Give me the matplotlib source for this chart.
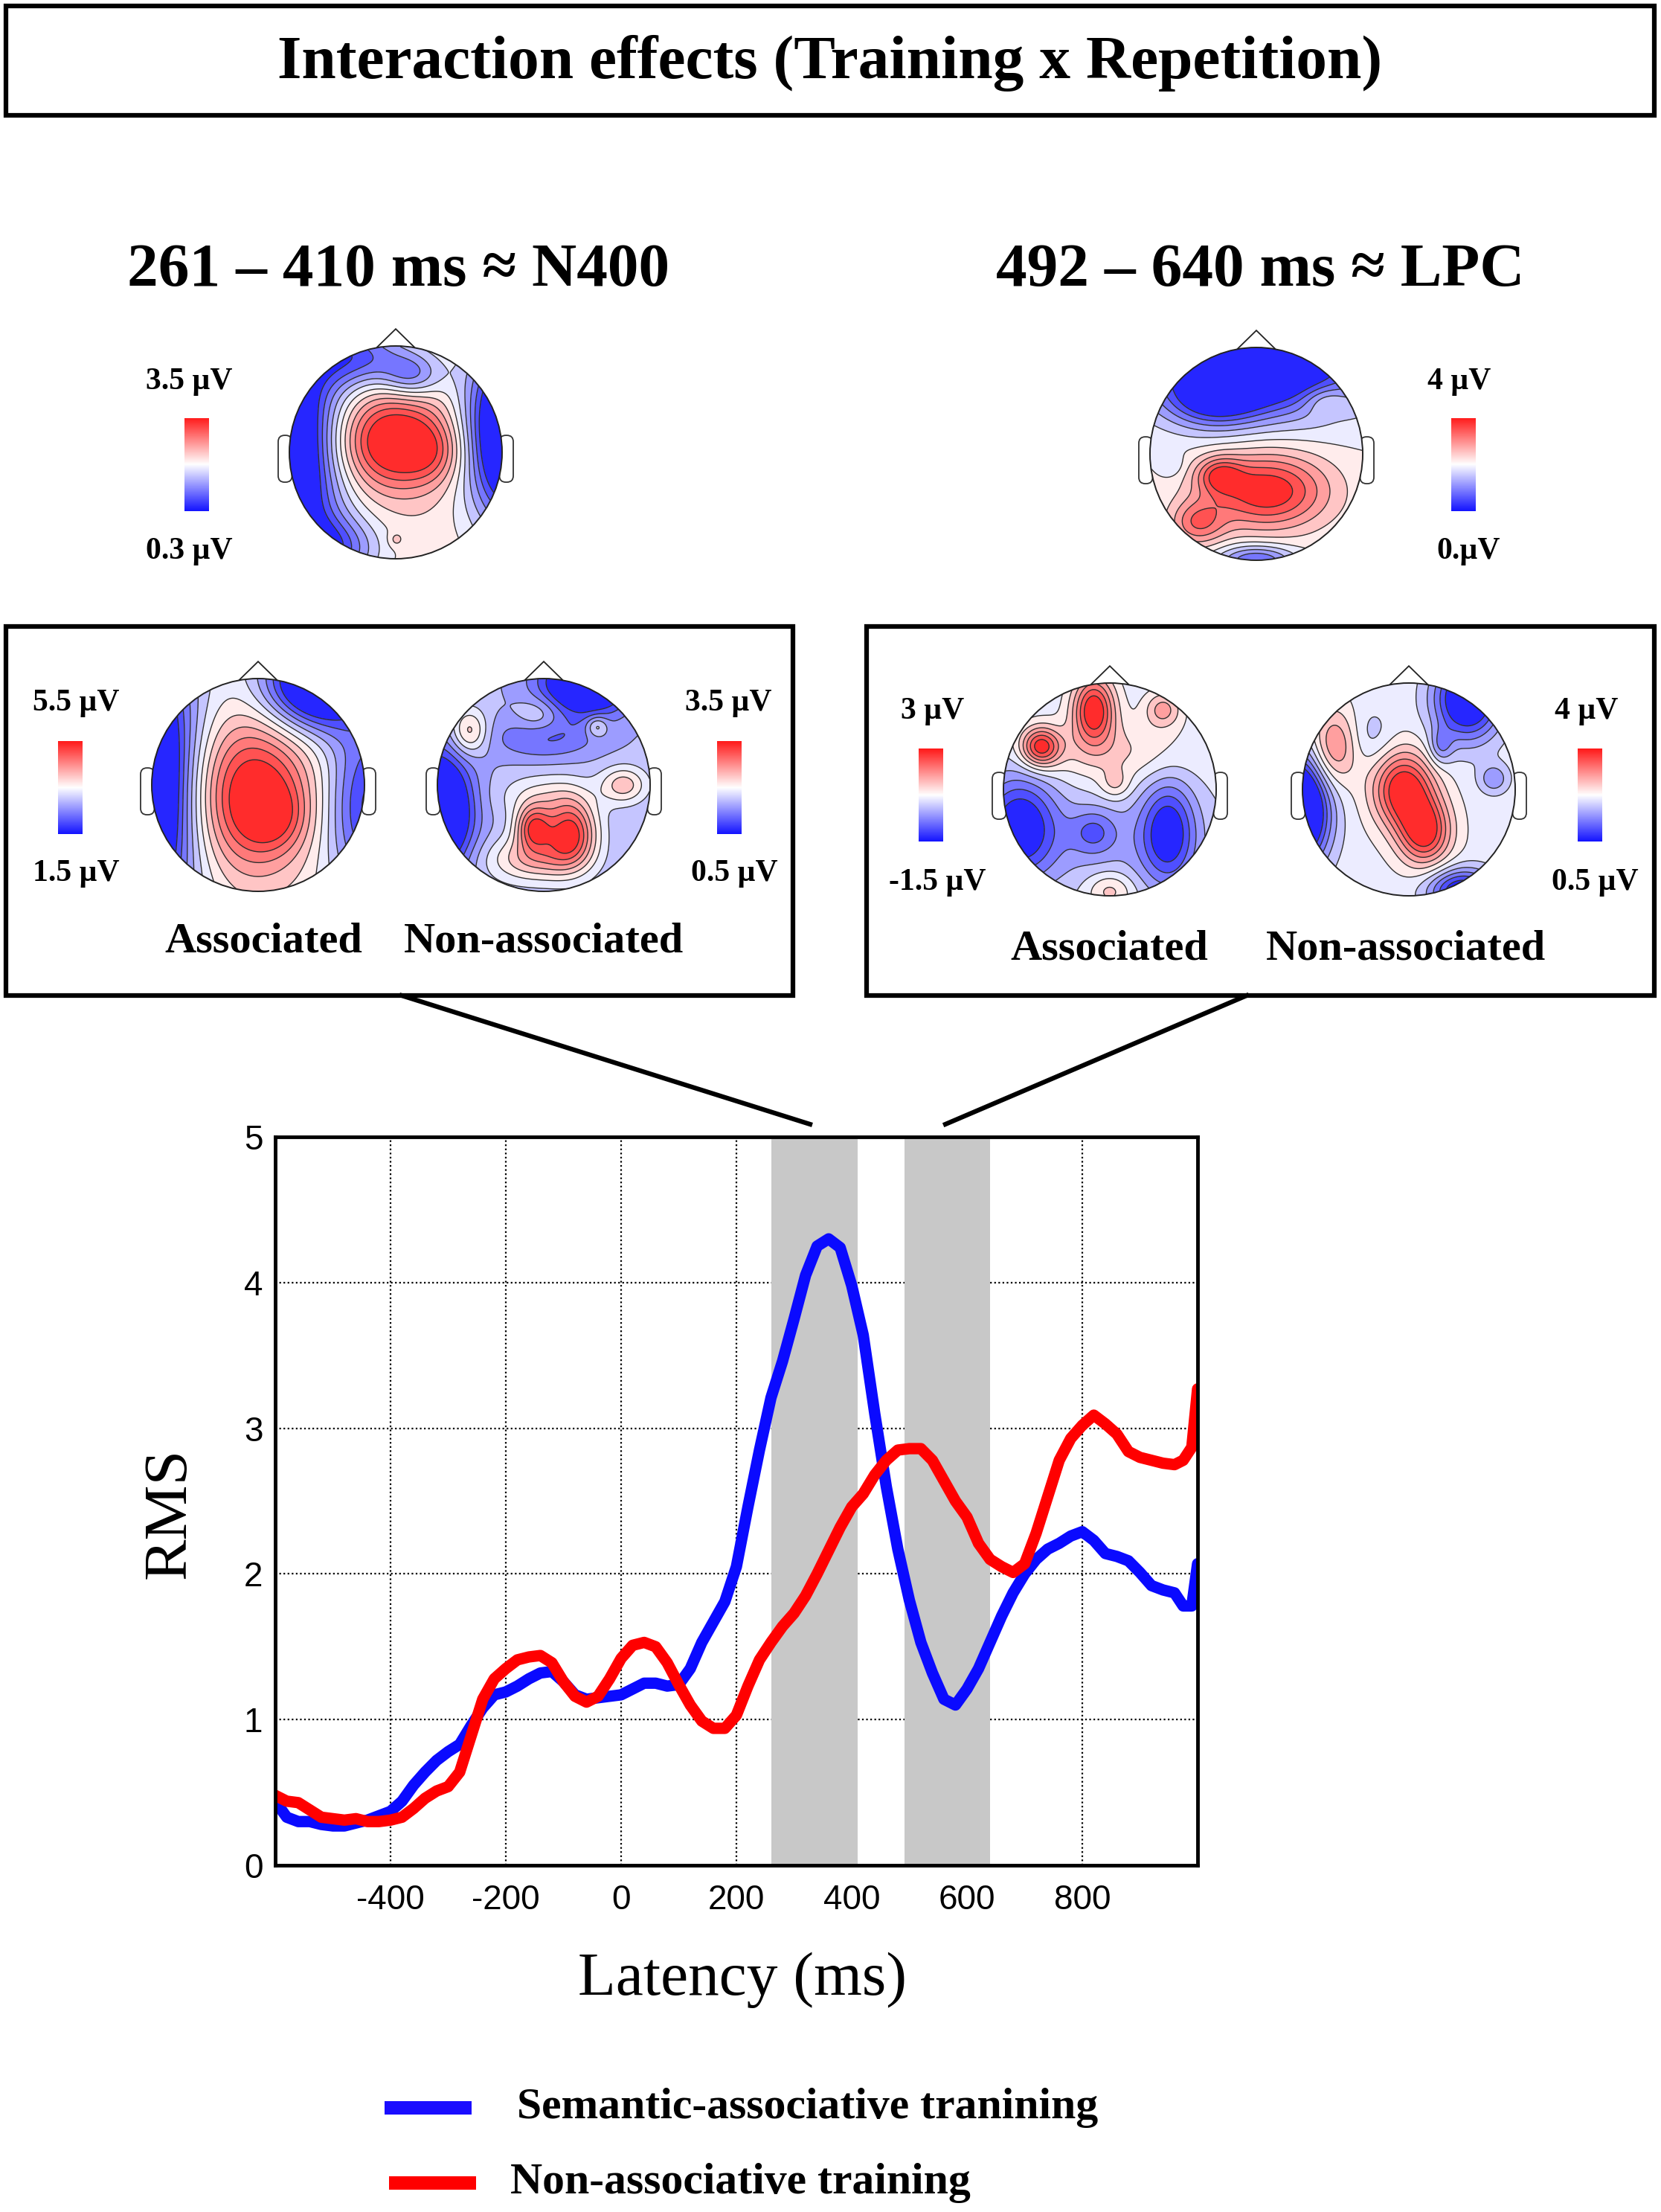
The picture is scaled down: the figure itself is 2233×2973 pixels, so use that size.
import numpy as np
import matplotlib.pyplot as plt
from matplotlib.patches import Rectangle, Polygon, Circle, FancyBboxPatch
from matplotlib.lines import Line2D
from matplotlib.colors import LinearSegmentedColormap

# RMS time courses (ms, µV)
latency = [-600, -580, -560, -540, -520, -500, -480, -460, -440, -420,
           -400, -380, -360, -340, -320, -300, -280, -260, -240, -220,
           -200, -180, -160, -140, -120, -100, -80, -60, -40, -20,
           0, 20, 40, 60, 80, 100, 120, 140, 160, 180,
           200, 220, 240, 260, 280, 300, 320, 340, 360, 380,
           400, 420, 440, 460, 480, 500, 520, 540, 560, 580,
           600, 620, 640, 660, 680, 700, 720, 740, 760, 780,
           800, 820, 840, 860, 880, 900, 920, 940, 960, 975, 990, 1000]
rms_semantic = [0.44, 0.33, 0.30, 0.30, 0.28, 0.27, 0.27, 0.29, 0.31, 0.34,
                0.37, 0.44, 0.55, 0.64, 0.72, 0.78, 0.83, 0.96, 1.08, 1.17,
                1.19, 1.23, 1.28, 1.32, 1.33, 1.26, 1.17, 1.14, 1.15, 1.16,
                1.17, 1.21, 1.25, 1.25, 1.23, 1.24, 1.35, 1.53, 1.67, 1.81,
                2.05, 2.46, 2.85, 3.21, 3.46, 3.75, 4.05, 4.25, 4.30, 4.24,
                3.98, 3.64, 3.10, 2.60, 2.17, 1.82, 1.53, 1.32, 1.14, 1.10,
                1.21, 1.35, 1.53, 1.71, 1.87, 2.00, 2.10, 2.17, 2.21, 2.26,
                2.29, 2.23, 2.14, 2.12, 2.09, 2.01, 1.92, 1.89, 1.87, 1.78, 1.78, 2.07]
rms_nonassoc = [0.48, 0.44, 0.43, 0.38, 0.33, 0.32, 0.31, 0.32, 0.30, 0.30,
                0.31, 0.33, 0.39, 0.46, 0.51, 0.54, 0.64, 0.89, 1.14, 1.28,
                1.35, 1.41, 1.43, 1.44, 1.39, 1.26, 1.16, 1.12, 1.16, 1.28,
                1.42, 1.51, 1.53, 1.50, 1.39, 1.24, 1.10, 0.99, 0.94, 0.94,
                1.03, 1.23, 1.41, 1.53, 1.64, 1.73, 1.85, 2.00, 2.16, 2.32,
                2.46, 2.55, 2.68, 2.78, 2.85, 2.86, 2.86, 2.78, 2.64, 2.50,
                2.39, 2.21, 2.10, 2.05, 2.01, 2.07, 2.28, 2.53, 2.78, 2.93,
                3.02, 3.09, 3.03, 2.96, 2.84, 2.80, 2.78, 2.76, 2.75, 2.78, 2.87, 3.27]
windows = [(261, 410), (492, 640)]
xticks = [-400, -200, 0, 200, 400, 600, 800]
yticks = [0, 1, 2, 3, 4, 5]

title = "Interaction effects (Training x Repetition)"
window_titles = ["261 \u2013 410 ms \u2248 N400", "492 \u2013 640 ms \u2248 LPC"]
legend_labels = ["Semantic-associative tranining", "Non-associative training"]
cond_labels = ["Associated", "Non-associated"]

# rough scalp maps: base level + blobs (x, y, sx, sy, amp), 0 = min colour, 1 = max colour
map_n400 = (0.55, [(-0.05, 0.1, 0.38, 0.32, 0.55), (0.35, 0.0, 0.2, 0.2, 0.15),
                   (-1.15, 0.0, 0.42, 1.0, -0.95),
                   (1.1, 0.2, 0.3, 0.6, -0.9), (0.15, 0.72, 0.2, 0.15, -0.3),
                   (-0.35, 0.9, 0.35, 0.2, -0.35), (-0.6, -0.9, 0.3, 0.2, -0.3),
                   (0.0, -0.82, 0.05, 0.05, 0.1)])
map_lpc = (0.5, [(0.0, 0.85, 0.7, 0.33, -0.75), (-0.4, 0.5, 0.3, 0.18, -0.3),
                 (0.1, -0.35, 0.4, 0.25, 0.5), (-0.35, -0.2, 0.15, 0.12, 0.3),
                 (-0.55, -0.65, 0.18, 0.15, 0.3), (0.0, -1.0, 0.25, 0.1, -0.35),
                 (0.65, 0.5, 0.15, 0.1, 0.15), (-0.8, -0.1, 0.08, 0.08, -0.1)])
map_n400_assoc = (0.5, [(-0.05, -0.1, 0.4, 0.5, 0.55), (0.15, -0.3, 0.2, 0.2, 0.15),
                        (-1.15, 0.0, 0.38, 1.0, -0.95), (0.55, 0.95, 0.35, 0.3, -0.75),
                        (1.05, -0.2, 0.3, 0.6, -0.45)])
map_n400_non = (0.35, [(0.0, 0.45, 0.35, 0.15, -0.2), (0.4, 0.95, 0.3, 0.2, -0.6),
                       (-1.0, -0.25, 0.22, 0.38, -0.7), (0.25, -0.45, 0.17, 0.22, 0.6),
                       (-0.1, -0.4, 0.12, 0.15, 0.5), (-0.1, -0.7, 0.3, 0.15, 0.3),
                       (-0.7, 0.5, 0.12, 0.15, 0.3), (0.75, 0.0, 0.15, 0.12, 0.28),
                       (0.5, 0.55, 0.07, 0.07, 0.2), (0.0, -0.1, 0.3, 0.15, 0.15),
                       (-0.05, 0.65, 0.15, 0.12, 0.15)])
map_lpc_assoc = (0.45, [(-0.15, 0.75, 0.14, 0.22, 0.55), (-0.65, 0.4, 0.13, 0.13, 0.5),
                        (0.5, 0.75, 0.12, 0.12, 0.25), (0.0, 0.35, 0.5, 0.2, 0.15),
                        (0.0, -0.5, 0.7, 0.35, -0.12),
                        (0.55, -0.4, 0.18, 0.35, -0.4), (-0.85, -0.35, 0.25, 0.35, -0.45),
                        (-0.15, -0.4, 0.15, 0.15, -0.2), (0.0, -0.95, 0.15, 0.12, 0.2),
                        (0.05, 0.05, 0.1, 0.1, 0.15)])
map_lpc_non = (0.47, [(-0.05, 0.0, 0.2, 0.25, 0.55), (0.15, -0.4, 0.17, 0.22, 0.5),
                      (-0.7, 0.4, 0.15, 0.25, 0.3), (-1.05, -0.2, 0.2, 0.35, -0.85),
                      (0.55, 0.85, 0.22, 0.27, -0.6), (0.3, 0.4, 0.08, 0.12, -0.2),
                      (0.5, -0.95, 0.22, 0.14, -0.5), (0.8, 0.1, 0.1, 0.1, -0.2),
                      (-0.35, 0.5, 0.15, 0.2, -0.1)])

W, H = 2233, 2973
fig = plt.figure(figsize=(W / 100, H / 100), dpi=100)
plt.rcParams['font.family'] = ['Liberation Serif', 'DejaVu Serif']
plt.rcParams['axes.unicode_minus'] = False
cmap = LinearSegmentedColormap.from_list('bwr2', ['#1414ff', '#ffffff', '#ff1a1a'])


def fb(x0, y0, x1, y1):
    # pixel box (top-left origin) -> figure fraction rect
    return [x0 / W, 1 - y1 / H, (x1 - x0) / W, (y1 - y0) / H]


def ftext(x, y, s, size, **kw):
    fig.text(x / W, 1 - y / H, s, fontsize=size, ha=kw.pop('ha', 'center'),
             va=kw.pop('va', 'center'), fontweight=kw.pop('fontweight', 'bold'), **kw)


def topo(cx, cy, spec, r=143):
    ax = fig.add_axes(fb(cx - 1.3 * r, cy - 1.3 * r, cx + 1.3 * r, cy + 1.3 * r))
    base, blobs = spec
    g = np.linspace(-1, 1, 300)
    X, Y = np.meshgrid(g, g)
    Z = np.full_like(X, base)
    for bx, by, sx, sy, a in blobs:
        Z += a * np.exp(-((X - bx) ** 2 / (2 * sx ** 2) + (Y - by) ** 2 / (2 * sy ** 2)))
    Z = np.clip(Z, 0, 1)
    Z[X ** 2 + Y ** 2 > 1.0] = np.nan
    lev = np.linspace(0, 1, 13)
    ax.contourf(X, Y, Z, levels=lev, cmap=cmap, vmin=0, vmax=1, zorder=1)
    ax.contour(X, Y, Z, levels=lev[1:-1], colors='#303030', linewidths=1.0, zorder=2)
    for side in (-1, 1):
        ear = FancyBboxPatch((-1.105 if side < 0 else 0.975, -0.28), 0.13, 0.44,
                             boxstyle='round,pad=0,rounding_size=0.06',
                             fc='white', ec='#333333', lw=1.3, zorder=0)
        ax.add_patch(ear)
    ax.add_patch(Polygon([(-0.18, 0.984), (0, 1.16), (0.18, 0.984)], closed=False,
                         fill=False, ec='#222222', lw=1.3, zorder=0))
    ax.add_patch(Circle((0, 0), 1.0, fill=False, ec='#222222', lw=1.4, zorder=3))
    ax.set_xlim(-1.3, 1.3)
    ax.set_ylim(-1.3, 1.3)
    ax.set_aspect('equal')
    ax.axis('off')


def cbar(x0, y0, x1, y1):
    ax = fig.add_axes(fb(x0, y0, x1, y1))
    ax.imshow(np.linspace(1, 0, 200).reshape(-1, 1), aspect='auto', cmap=cmap)
    ax.axis('off')


# frames
fig.add_artist(Rectangle((8 / W, 1 - 155 / H), 2216 / W, 147 / H, fill=False, lw=4.5,
                         ec='black', transform=fig.transFigure))
for x0, x1 in [(8, 1066), (1165, 2224)]:
    fig.add_artist(Rectangle((x0 / W, 1 - 1338 / H), (x1 - x0) / W, 496 / H, fill=False,
                             lw=4.5, ec='black', transform=fig.transFigure))
for (xa, ya), (xb, yb) in [((540, 1338), (1089, 1511)), ((1676, 1338), (1271, 1511))]:
    fig.add_artist(Line2D([xa / W, xb / W], [1 - ya / H, 1 - yb / H], lw=4.5,
                          color='black', transform=fig.transFigure))

ftext(1116, 85, title, 60)
ftext(536, 364, window_titles[0], 60)
ftext(1694, 364, window_titles[1], 60)

# top maps
topo(532, 608, map_n400)
topo(1689, 610, map_lpc)
cbar(248, 562, 281, 687)
ftext(254, 513, "3.5 \u00b5V", 30)
ftext(254, 741, "0.3 \u00b5V", 30)
cbar(1951, 562, 1984, 687)
ftext(1962, 513, "4 \u00b5V", 30)
ftext(1974, 741, "0.\u00b5V", 30)

# boxed maps
topo(347, 1055, map_n400_assoc)
topo(731, 1055, map_n400_non)
cbar(78, 996, 111, 1121)
ftext(102, 945, "5.5 \u00b5V", 30)
ftext(102, 1174, "1.5 \u00b5V", 30)
cbar(964, 996, 997, 1121)
ftext(979, 945, "3.5 \u00b5V", 30)
ftext(987, 1174, "0.5 \u00b5V", 30)
ftext(354, 1265, cond_labels[0], 42)
ftext(731, 1265, cond_labels[1], 42)

topo(1492, 1061, map_lpc_assoc)
topo(1894, 1061, map_lpc_non)
cbar(1235, 1006, 1268, 1131)
ftext(1254, 956, "3 \u00b5V", 30)
ftext(1260, 1186, "-1.5 \u00b5V", 30)
cbar(2121, 1006, 2154, 1131)
ftext(2133, 956, "4 \u00b5V", 30)
ftext(2144, 1186, "0.5 \u00b5V", 30)
ftext(1491, 1275, cond_labels[0], 42)
ftext(1890, 1275, cond_labels[1], 42)

# RMS plot
ax = fig.add_axes(fb(370, 1528, 1610, 2507))
ax.grid(True, color='black', ls=(0, (1, 1.5)), lw=1.6, zorder=0.5)
for a, b in windows:
    ax.axvspan(a, b, color='#c8c8c8', lw=0, zorder=1)
ax.plot(latency, rms_semantic, color='#0a0aff', lw=11, solid_joinstyle='round',
        solid_capstyle='round', zorder=3)
ax.plot(latency, rms_nonassoc, color='#ff0000', lw=11, solid_joinstyle='round',
        solid_capstyle='round', zorder=3)
ax.set_xlim(-600, 1000)
ax.set_ylim(0, 5)
ax.set_xticks(xticks)
ax.set_yticks(yticks)
ax.set_axisbelow(True)
for s in ax.spines.values():
    s.set_linewidth(3.5)
    s.set_zorder(4)
ax.tick_params(length=0, labelsize=33, pad=18)
for lab in ax.get_xticklabels() + ax.get_yticklabels():
    lab.set_fontfamily('Liberation Sans')
ax.tick_params(axis='y', pad=12)

ftext(229, 2034, "RMS", 60, rotation=90, fontweight='normal')
ftext(998, 2661, "Latency (ms)", 60, fontweight='normal')

# legend
for (x0, x1, y), col, lab, tx in [((517, 634, 2833), '#1a0dff', legend_labels[0], 695),
                                  ((523, 640, 2934), '#ff0000', legend_labels[1], 686)]:
    fig.add_artist(Line2D([x0 / W, x1 / W], [1 - y / H, 1 - y / H], lw=13, color=col,
                          solid_capstyle='butt', transform=fig.transFigure))
    ftext(tx, y, lab, 43, ha='left')

fig.savefig('out.png', dpi=100)
